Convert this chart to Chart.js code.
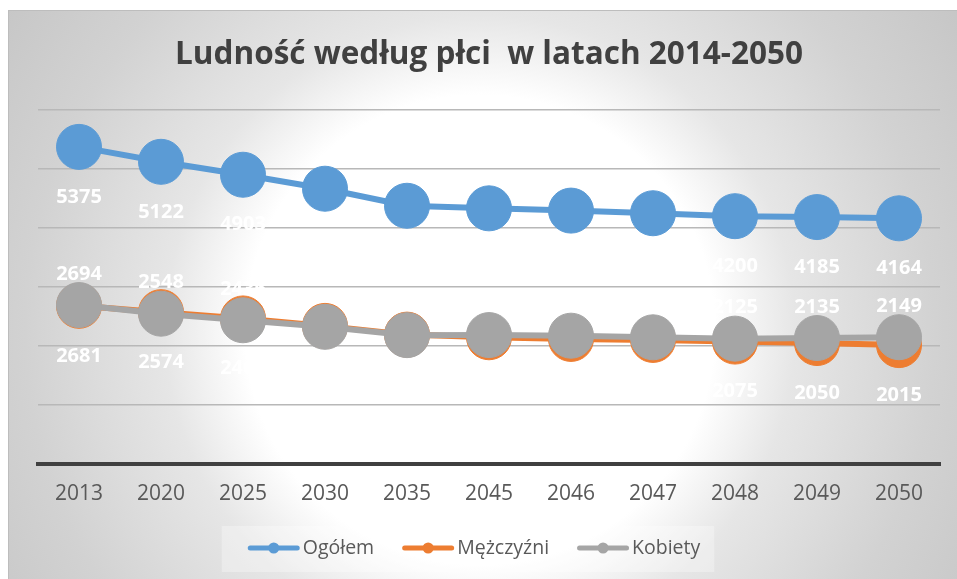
<!DOCTYPE html>
<html lang="pl">
<head>
<meta charset="utf-8">
<title>Ludność według płci</title>
<script src="https://cdn.jsdelivr.net/npm/chart.js@4.4.1/dist/chart.umd.min.js"></script>
<style>
  html, body { margin: 0; padding: 0; background: #fff; }
  #frame {
    position: absolute; left: 8px; top: 10px; width: 949px; height: 569px;
    background: radial-gradient(circle 580px at 472px 320px, #ffffff 0px, #ffffff 235px, #e6e6e6 315px, #d2d2d2 455px, #c6c6c6 580px);
    box-shadow: inset 1px 1px 0 #bdbdbd;
  }
  #chart { display: block; }
</style>
</head>
<body>
<div id="frame"><canvas id="chart" width="949" height="569"></canvas></div>
<script>
const years = ['2013', '2020', '2025', '2030', '2035', '2045', '2046', '2047', '2048', '2049', '2050'];
const ogolem = [5375, 5122, 4903, 4666, 4377, 4333, 4295, 4250, 4200, 4185, 4164];
const mezczyzni = [2681, 2574, 2467, 2341, 2193, 2148, 2120, 2103, 2075, 2050, 2015];
const kobiety = [2694, 2548, 2436, 2325, 2184, 2185, 2175, 2147, 2125, 2135, 2149];

const BLUE = '#5b9bd5';
const ORANGE = '#ed7d31';
const GRAY = '#a5a5a5';
const FONT = "'Open Sans', 'Liberation Sans', sans-serif";

// white value labels above / below every point
const valueLabels = {
  id: 'valueLabels',
  afterDatasetsDraw(chart) {
    const ctx = chart.ctx;
    ctx.save();
    ctx.font = 'bold 20px ' + FONT;
    ctx.fillStyle = '#ffffff';
    ctx.textAlign = 'center';
    ctx.textBaseline = 'middle';
    chart.data.datasets.forEach((ds, i) => {
      const meta = chart.getDatasetMeta(i);
      meta.data.forEach((pt, j) => {
        ctx.fillText(ds.data[j], pt.x, pt.y + ds.labelOffset);
      });
    });
    ctx.restore();
  }
};

// legend row under the axis: line + dot marker, then the series name
const lineLegend = {
  id: 'lineLegend',
  afterDraw(chart) {
    const ctx = chart.ctx;
    const cy = 538;
    const lineLen = 52;
    const textGap = 3;
    const itemGap = 28;
    ctx.save();
    ctx.font = '19.5px ' + FONT;
    const items = chart.data.datasets.map(ds => ({
      ds,
      w: lineLen + textGap + ctx.measureText(ds.label).width
    }));
    const total = items.reduce((s, it) => s + it.w, 0) + itemGap * (items.length - 1);
    let x = 466 - total / 2;

    // faint box behind the row
    ctx.fillStyle = 'rgba(255,255,255,0.3)';
    ctx.fillRect(x - 26, cy - 22, total + 40, 46);

    items.forEach(it => {
      const color = it.ds.borderColor;
      ctx.strokeStyle = color;
      ctx.lineWidth = 5;
      ctx.lineCap = 'round';
      ctx.beginPath();
      ctx.moveTo(x + 2.5, cy);
      ctx.lineTo(x + lineLen - 2.5, cy);
      ctx.stroke();
      ctx.fillStyle = color;
      ctx.beginPath();
      ctx.arc(x + lineLen / 2, cy, 5.5, 0, Math.PI * 2);
      ctx.fill();
      ctx.fillStyle = '#595959';
      ctx.textAlign = 'left';
      ctx.textBaseline = 'middle';
      ctx.fillText(it.ds.label, x + lineLen + textGap, cy);
      x += it.w + itemGap;
    });
    ctx.restore();
  }
};

new Chart(document.getElementById('chart'), {
  type: 'line',
  data: {
    labels: years,
    datasets: [
      { label: 'Ogółem', data: ogolem, borderColor: BLUE, backgroundColor: BLUE, order: 0, labelOffset: 50 },
      { label: 'Mężczyźni', data: mezczyzni, borderColor: ORANGE, backgroundColor: ORANGE, order: 2, labelOffset: 50 },
      { label: 'Kobiety', data: kobiety, borderColor: GRAY, backgroundColor: GRAY, order: 1, labelOffset: -31 }
    ]
  },
  options: {
    responsive: false,
    animation: false,
    devicePixelRatio: 1,
    layout: { autoPadding: false, padding: { left: 30, right: 17, top: 0, bottom: 55.8 } },
    elements: {
      line: { borderWidth: 6, tension: 0 },
      point: { radius: 22.5, hoverRadius: 22.5, borderWidth: 1 }
    },
    scales: {
      x: {
        offset: true,
        grid: { display: false, drawTicks: false },
        border: { display: true, color: '#404040', width: 4 },
        ticks: { color: '#595959', font: { family: FONT, size: 21 }, padding: 17, maxRotation: 0 }
      },
      y: {
        min: 0,
        max: 6000,
        ticks: { display: false, stepSize: 1000 },
        grid: {
          color: c => (c.tick && c.tick.value === 0) ? 'rgba(0,0,0,0)' : '#b8b8b8',
          lineWidth: 1.5,
          drawTicks: false
        },
        border: { display: false }
      }
    },
    plugins: {
      title: {
        display: true,
        text: 'Ludność według płci  w latach 2014-2050',
        color: '#404040',
        font: { family: FONT, size: 31.5, weight: 'bold', lineHeight: 1.2 },
        padding: { top: 26, bottom: 36.2 }
      },
      legend: { display: false },
      tooltip: { enabled: false }
    }
  },
  plugins: [valueLabels, lineLegend]
});
</script>
</body>
</html>
